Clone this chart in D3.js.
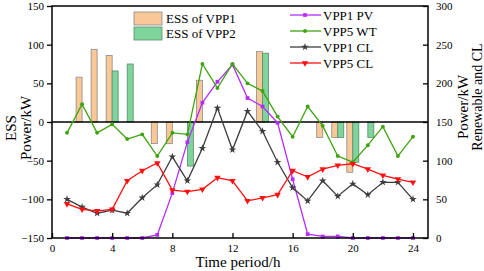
<!DOCTYPE html>
<html>
<head>
<meta charset="utf-8">
<script src="https://cdn.jsdelivr.net/npm/d3@7"></script>
<style>
  body { margin: 0; background: #fff; }
  text { font-family: "Liberation Serif", "Times New Roman", serif; }
</style>
</head>
<body>
<div id="chart"></div>
<script>
// hours for the line series
const hours = d3.range(1, 25);

// ESS bars (left axis, kW)
const essVpp1 = [
  { h: 2, v: 58 }, { h: 3, v: 94 }, { h: 4, v: 86 }, { h: 7, v: -28 }, { h: 8, v: -28 },
  { h: 10, v: 54 }, { h: 14, v: 91 }, { h: 18, v: -20 }, { h: 19, v: -20 }, { h: 20, v: -65 }
];
const essVpp2 = [
  { h: 4, v: 66 }, { h: 5, v: 75 }, { h: 9, v: -57 }, { h: 14, v: 89 },
  { h: 19, v: -20 }, { h: 20, v: -52 }, { h: 21, v: -20 }
];

// renewable and CL (right axis, kW)
const vpp1PV = [0, 0, 0, 0, 0, 0, 4, 58, 124, 175, 202, 224, 181, 170, 149, 76, 5, 2, 2, 0, 0, 0, 0, 0];
const vpp5WT = [136, 173, 136, 147, 128, 134, 106, 136, 134, 225, 194, 225, 200, 190, 157, 131, 170, 145, 106, 98, 120, 144, 106, 131];
const vpp1CL = [50, 40, 32, 36, 32, 52, 69, 105, 74, 116, 168, 114, 164, 138, 98, 65, 48, 74, 54, 70, 56, 72, 72, 50];
const vpp5CL = [44, 37, 35, 37, 74, 87, 97, 62, 60, 63, 78, 74, 48, 52, 56, 87, 79, 89, 94, 96, 89, 81, 76, 72];

const xTicks = [0, 4, 8, 12, 16, 20, 24];
const leftTicks = [-150, -100, -50, 0, 50, 100, 150];
const rightTicks = [0, 50, 100, 150, 200, 250, 300];

const W = 484, H = 271;
const L = 52, R = 428, T = 6, B = 238;

const svg = d3.select("#chart").append("svg")
  .attr("width", W).attr("height", H);

const x = d3.scaleLinear().domain([0, 25]).range([L, R]);
const yL = d3.scaleLinear().domain([-150, 150]).range([B, T]);
const yR = d3.scaleLinear().domain([0, 300]).range([B, T]);

const barW = 6;
const orange = "#f9c896", green = "#7ed49b";

// bars
svg.append("g").selectAll("rect").data(essVpp1).enter().append("rect")
  .attr("x", d => x(d.h) - barW)
  .attr("y", d => Math.min(yL(d.v), yL(0)))
  .attr("width", barW)
  .attr("height", d => Math.abs(yL(d.v) - yL(0)))
  .attr("fill", orange).attr("stroke", "#8a8a8a").attr("stroke-width", 0.8);
svg.append("g").selectAll("rect").data(essVpp2).enter().append("rect")
  .attr("x", d => x(d.h))
  .attr("y", d => Math.min(yL(d.v), yL(0)))
  .attr("width", barW)
  .attr("height", d => Math.abs(yL(d.v) - yL(0)))
  .attr("fill", green).attr("stroke", "#5b8a6b").attr("stroke-width", 0.8);

// zero line
svg.append("line")
  .attr("x1", L).attr("x2", R).attr("y1", yL(0)).attr("y2", yL(0))
  .attr("stroke", "#000").attr("stroke-width", 1.3);

// line series
const series = [
  { name: "VPP1 PV", vals: vpp1PV, color: "#b52cff", sym: d3.symbolSquare, size: 14, rot: 0 },
  { name: "VPP5 WT", vals: vpp5WT, color: "#3fa40f", sym: d3.symbolCircle, size: 12, rot: 0 },
  { name: "VPP1 CL", vals: vpp1CL, color: "#3d3d3d", sym: d3.symbolStar, size: 18, rot: 0 },
  { name: "VPP5 CL", vals: vpp5CL, color: "#ff1010", sym: d3.symbolTriangle, size: 18, rot: 180 }
];

const line = d3.line().x((d, i) => x(hours[i])).y(d => yR(d));

series.forEach(s => {
  svg.append("path").datum(s.vals)
    .attr("d", line).attr("fill", "none")
    .attr("stroke", s.color).attr("stroke-width", 1.3);
  svg.append("g").selectAll("path").data(s.vals).enter().append("path")
    .attr("d", d3.symbol().type(s.sym).size(s.size))
    .attr("transform", (d, i) => `translate(${x(hours[i])},${yR(d)}) rotate(${s.rot})`)
    .attr("fill", s.color);
});

// frame
svg.append("rect")
  .attr("x", L).attr("y", T).attr("width", R - L).attr("height", B - T)
  .attr("fill", "none").attr("stroke", "#000").attr("stroke-width", 1.5);

// axes
const xAxis = svg.append("g").attr("transform", `translate(0,${B})`)
  .call(d3.axisBottom(x).tickValues(xTicks).tickSizeInner(-5).tickSizeOuter(0).tickPadding(6));
const leftAxis = svg.append("g").attr("transform", `translate(${L},0)`)
  .call(d3.axisLeft(yL).tickValues(leftTicks).tickSizeInner(5).tickSizeOuter(0).tickPadding(3));
const rightAxis = svg.append("g").attr("transform", `translate(${R},0)`)
  .call(d3.axisRight(yR).tickValues(rightTicks).tickSizeInner(-5).tickSizeOuter(0).tickPadding(8));

[xAxis, leftAxis, rightAxis].forEach(a => {
  a.select(".domain").remove();
  a.selectAll(".tick line").attr("stroke", "#000").attr("stroke-width", 1.3);
  a.selectAll(".tick text").attr("font-family", "Liberation Serif, serif")
    .attr("font-size", 11).attr("fill", "#000");
});

// axis titles
svg.append("text").attr("x", 238).attr("y", 267)
  .attr("text-anchor", "middle").attr("font-size", 15).text("Time period/h");
svg.append("text").attr("transform", "translate(16,128) rotate(-90)")
  .attr("text-anchor", "middle").attr("font-size", 15).text("ESS");
svg.append("text").attr("transform", "translate(31,128) rotate(-90)")
  .attr("text-anchor", "middle").attr("font-size", 15).text("Power/kW");
svg.append("text").attr("transform", "translate(468,107) rotate(-90)")
  .attr("text-anchor", "middle").attr("font-size", 15).text("Power/kW");
svg.append("text").attr("transform", "translate(482,97) rotate(-90)")
  .attr("text-anchor", "middle").attr("font-size", 14).text("Renewable and CL");

// bar legend
const barLegend = [
  { name: "ESS of VPP1", fill: orange, stroke: "#8a8a8a" },
  { name: "ESS of VPP2", fill: green, stroke: "#5b8a6b" }
];
barLegend.forEach((d, i) => {
  svg.append("rect").attr("x", 134).attr("y", 12 + i * 15).attr("width", 28).attr("height", 13)
    .attr("fill", d.fill).attr("stroke", d.stroke).attr("stroke-width", 0.8);
  svg.append("text").attr("x", 166).attr("y", 23 + i * 15)
    .attr("font-size", 13).text(d.name);
});

// line legend
series.forEach((s, i) => {
  const yy = 15 + i * 16;
  svg.append("line").attr("x1", 290).attr("x2", 321).attr("y1", yy).attr("y2", yy)
    .attr("stroke", s.color).attr("stroke-width", 1.3);
  svg.append("path").attr("d", d3.symbol().type(s.sym).size(s.size))
    .attr("transform", `translate(305,${yy}) rotate(${s.rot})`).attr("fill", s.color);
  svg.append("text").attr("x", 323).attr("y", yy + 4.5)
    .attr("font-size", 13).text(s.name);
});
</script>
</body>
</html>
